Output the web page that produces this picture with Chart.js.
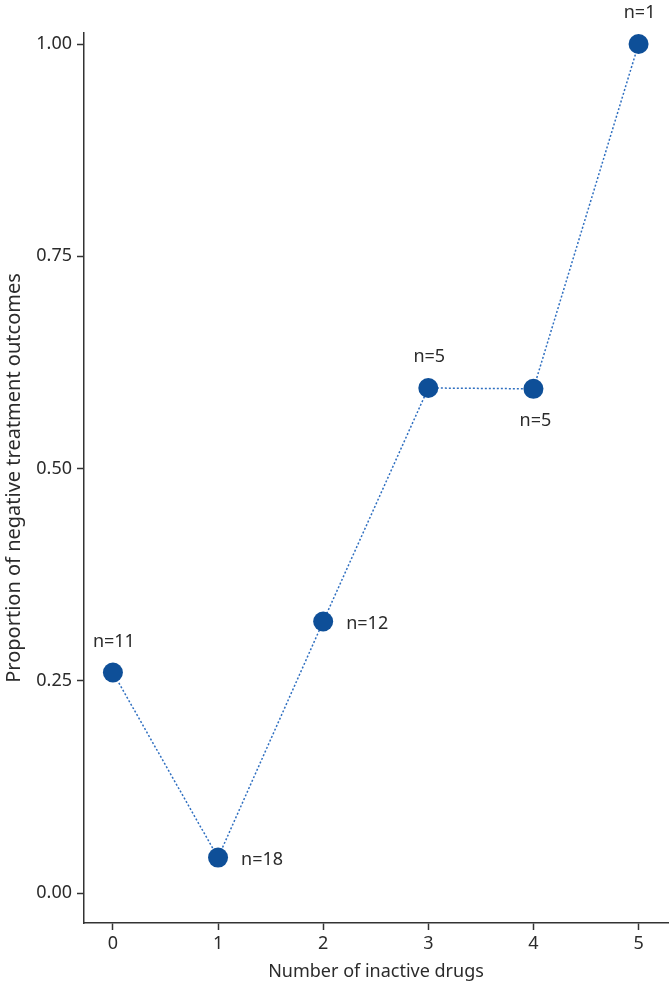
<!DOCTYPE html>
<html>
<head>
<meta charset="utf-8">
<script src="https://cdn.jsdelivr.net/npm/chart.js@4.4.1/dist/chart.umd.min.js"></script>
<style>
  html, body { margin: 0; padding: 0; background: #fff; overflow: hidden; }
  #wrap { width: 669px; height: 987px; }
  canvas { display: block; }
</style>
</head>
<body>
<div id="wrap"><canvas id="chart" width="669" height="987"></canvas></div>
<script>
// data
var inactiveDrugs = [0, 1, 2, 3, 4, 5];
var proportionNegative = [0.26, 0.042, 0.32, 0.595, 0.594, 1.0];
var groupSizes = ['n=11', 'n=18', 'n=12', 'n=5', 'n=5', 'n=1'];
var xTickValues = [0, 1, 2, 3, 4, 5];
var yTickValues = [0, 0.25, 0.5, 0.75, 1.0];

// where each n= label sits relative to its point
var labelSide = ['top', 'right', 'right', 'top', 'bottom', 'top'];

var axisColor = '#333333';
var textColor = '#2b2b2b';
var fontFamily = '"Noto Sans", "DejaVu Sans", sans-serif';

var points = inactiveDrugs.map(function (x, i) {
  return { x: x, y: proportionNegative[i] };
});

// draws the n= labels next to the points
var sizeLabels = {
  id: 'sizeLabels',
  afterDatasetsDraw: function (chart) {
    var ctx = chart.ctx;
    var meta = chart.getDatasetMeta(0);
    ctx.save();
    ctx.font = '18px ' + fontFamily;
    ctx.fillStyle = textColor;
    meta.data.forEach(function (pt, i) {
      var side = labelSide[i];
      if (side === 'top') {
        ctx.textAlign = 'center'; ctx.textBaseline = 'middle';
        ctx.fillText(groupSizes[i], pt.x + 1, pt.y - 31);
      } else if (side === 'bottom') {
        ctx.textAlign = 'center'; ctx.textBaseline = 'middle';
        ctx.fillText(groupSizes[i], pt.x + 2, pt.y + 32);
      } else {
        ctx.textAlign = 'left'; ctx.textBaseline = 'middle';
        ctx.fillText(groupSizes[i], pt.x + 23, pt.y + 2);
      }
    });
    ctx.restore();
  }
};

var ctx = document.getElementById('chart').getContext('2d');
var chart = new Chart(ctx, {
  type: 'scatter',
  data: {
    datasets: [{
      data: points,
      showLine: true,
      clip: false,
      borderColor: '#2f6fc0',
      borderWidth: 1.5,
      borderDash: [2, 2],
      pointRadius: 10,
      pointHoverRadius: 10,
      pointBackgroundColor: '#0e4f98',
      pointBorderColor: '#0e4f98',
      pointBorderWidth: 0
    }]
  },
  options: {
    responsive: false,
    animation: false,
    devicePixelRatio: 1,
    layout: { autoPadding: false, padding: { top: 33, right: 1, left: 0, bottom: 0 } },
    plugins: {
      legend: { display: false },
      tooltip: { enabled: false }
    },
    scales: {
      x: {
        type: 'linear',
        min: -0.275,
        max: 5.28,
        afterBuildTicks: function (scale) {
          scale.ticks = xTickValues.map(function (v) { return { value: v }; });
        },
        afterFit: function (scale) {
          scale.height = 64;
        },
        grid: { display: true, drawOnChartArea: false, drawTicks: true, tickLength: 7, tickColor: axisColor, tickWidth: 1.5 },
        border: { display: true, color: axisColor, width: 1.5 },
        ticks: {
          color: textColor,
          padding: 3,
          font: { family: fontFamily, size: 18 },
          callback: function (v) { return String(v); }
        },
        title: {
          display: true,
          text: 'Number of inactive drugs',
          color: textColor,
          font: { family: fontFamily, size: 18 },
          padding: { top: 0, bottom: 4 }
        }
      },
      y: {
        type: 'linear',
        min: -0.035,
        max: 1.013,
        afterBuildTicks: function (scale) {
          scale.ticks = yTickValues.map(function (v) { return { value: v }; });
        },
        afterFit: function (scale) { scale.width = 84; },
        grid: { display: true, drawOnChartArea: false, drawTicks: true, tickLength: 7, tickColor: axisColor, tickWidth: 1.5 },
        border: { display: true, color: axisColor, width: 1.5 },
        ticks: {
          color: textColor,
          padding: 5,
          font: { family: fontFamily, size: 18 },
          callback: function (v) { return Number(v).toFixed(2); }
        },
        title: {
          display: true,
          text: 'Proportion of negative treatment outcomes',
          color: textColor,
          font: { family: fontFamily, size: 20 },
          padding: { top: 2, bottom: 0 }
        }
      }
    }
  },
  plugins: [sizeLabels]
});
</script>
</body>
</html>
